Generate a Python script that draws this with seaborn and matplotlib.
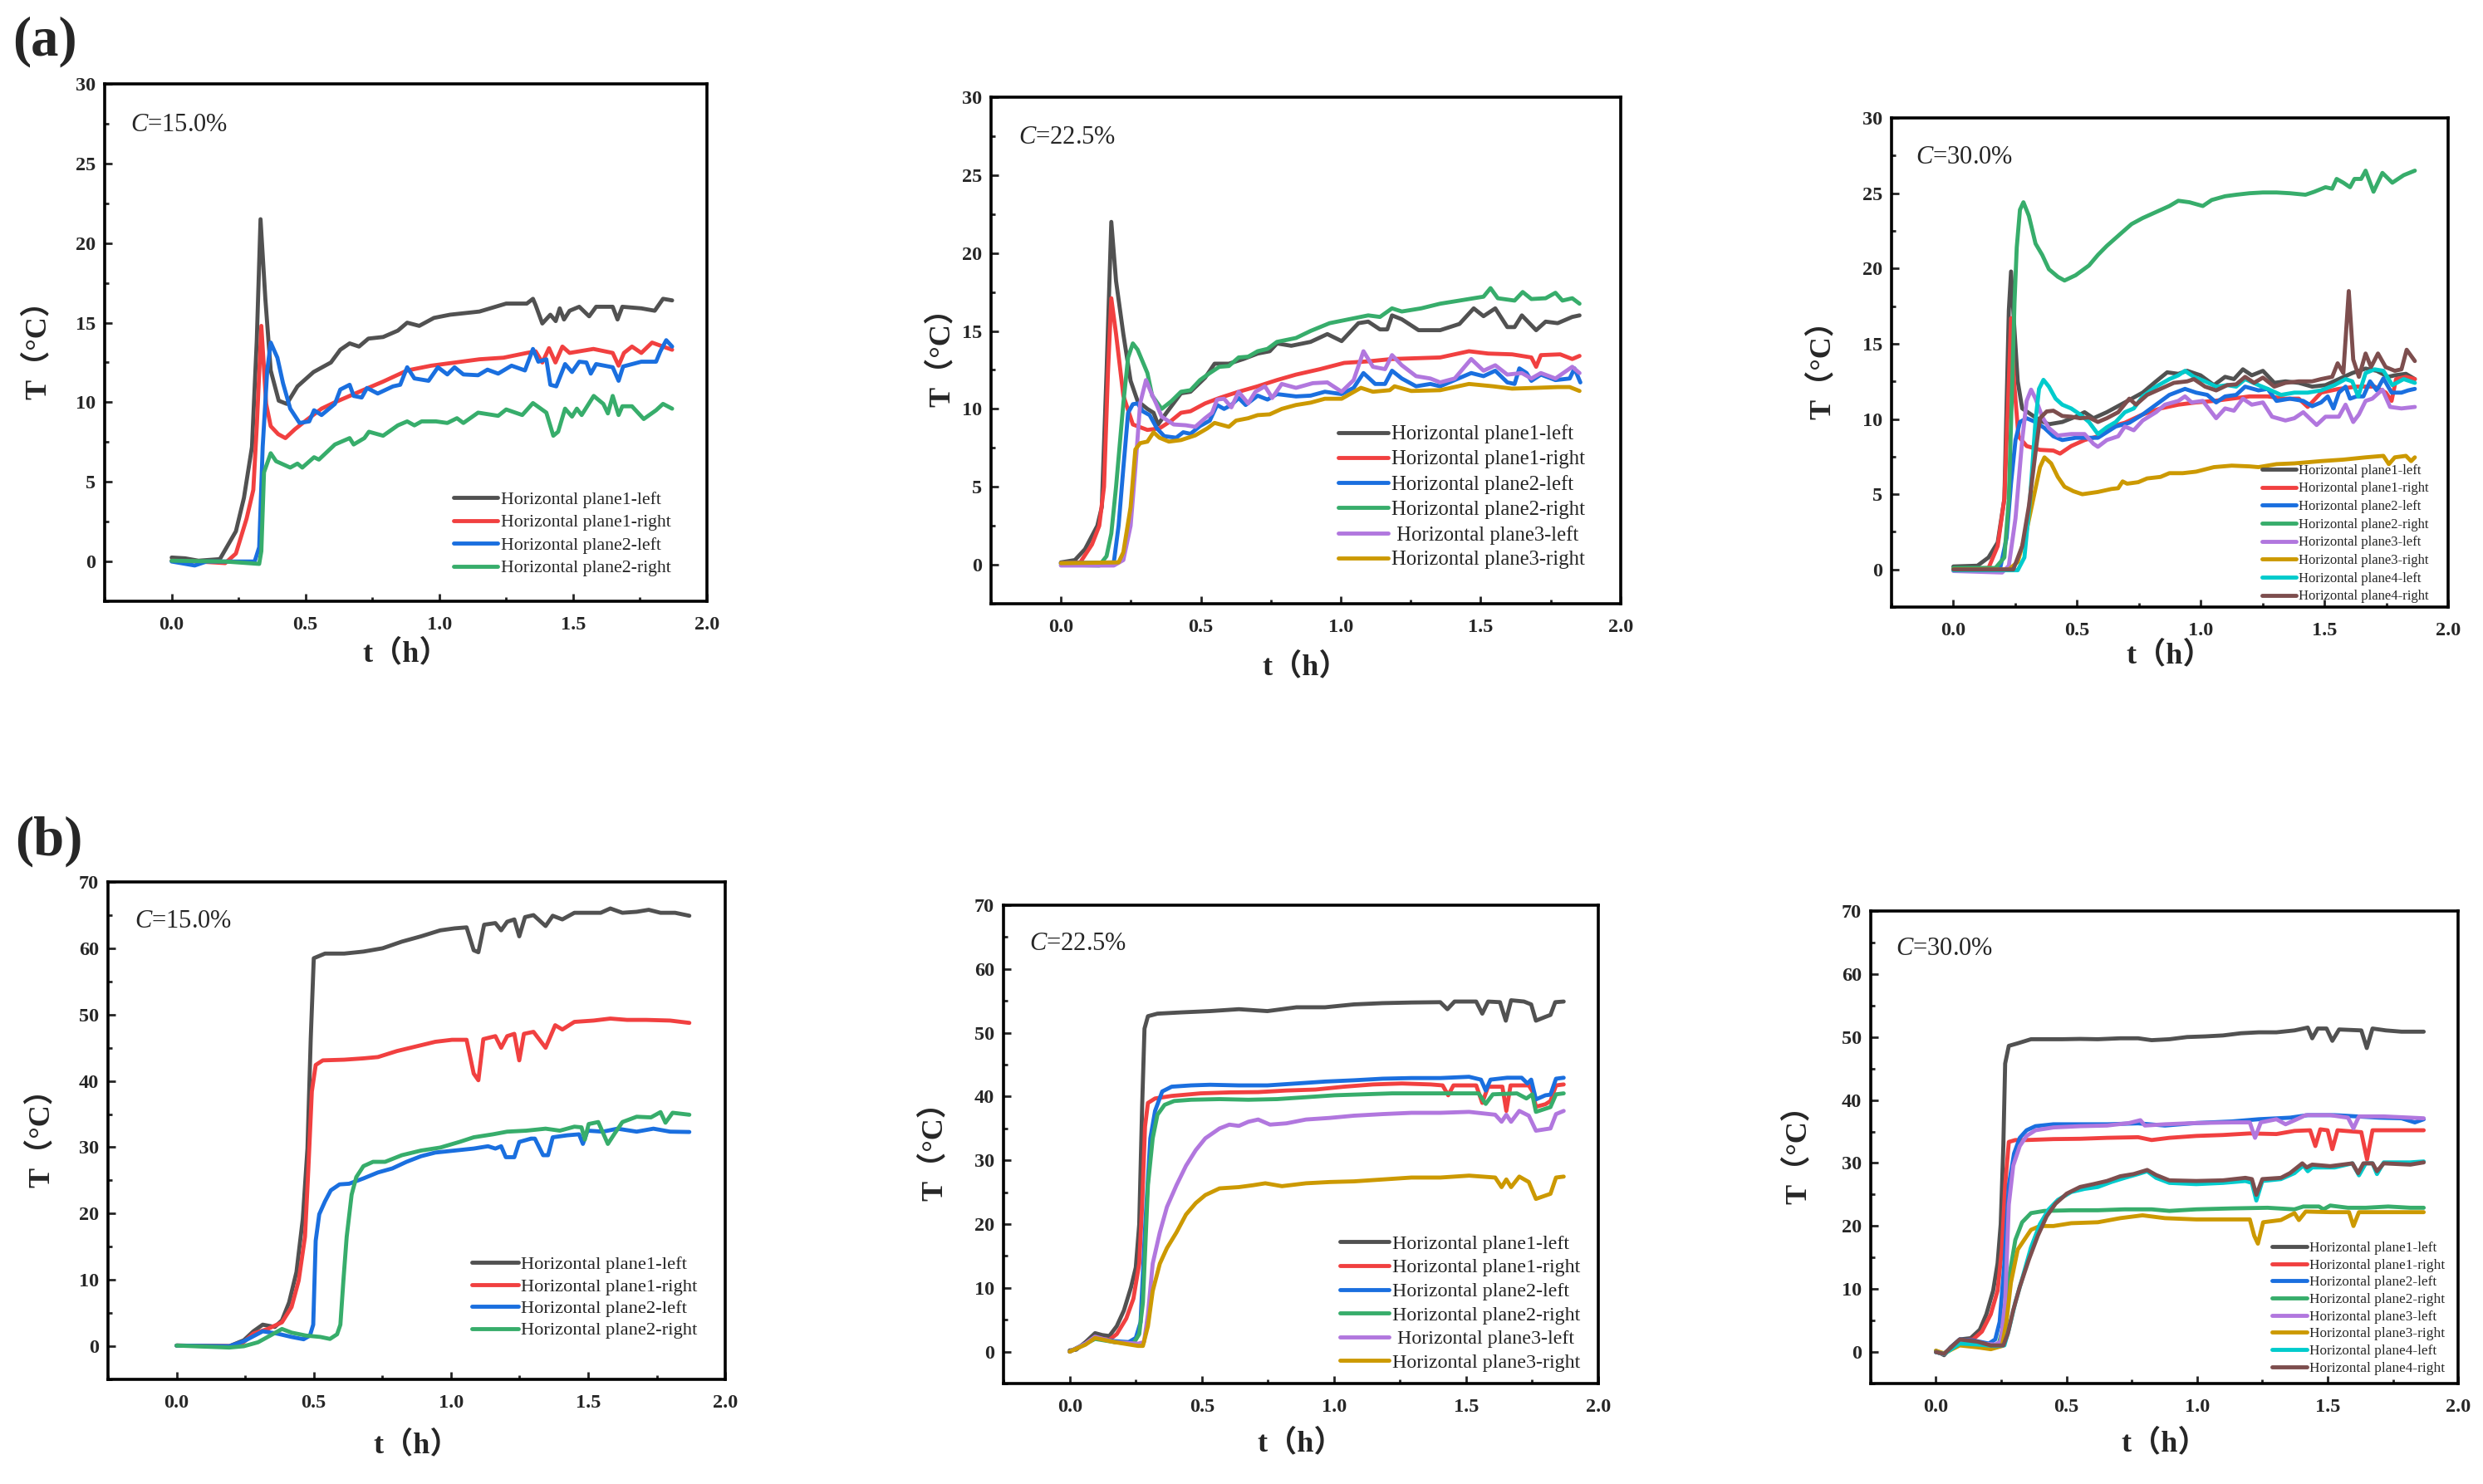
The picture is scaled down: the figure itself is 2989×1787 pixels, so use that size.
import matplotlib
matplotlib.use("Agg")
import matplotlib.pyplot as plt
from matplotlib.ticker import MultipleLocator
import seaborn as sns

# ---------------- data (t in h, T in degC) ----------------
labels4 = ["Horizontal plane1-left", "Horizontal plane1-right",
           "Horizontal plane2-left", "Horizontal plane2-right"]
labels6 = labels4 + [" Horizontal plane3-left", "Horizontal plane3-right"]
labels8 = labels4 + ["Horizontal plane3-left", "Horizontal plane3-right",
                     "Horizontal plane4-left", "Horizontal plane4-right"]
colors = ["#515151", "#F14040", "#1A6FDF", "#37AD6B",
          "#B177DE", "#CC9900", "#00CBCC", "#7D4E4E"]

# (a) C = 15.0 %
a15_p1l = [(0, 0.25), (0.05, 0.2), (0.1, 0.05), (0.18, 0.15), (0.24, 1.9), (0.27, 4), (0.3, 7.2),
           (0.318, 13.9), (0.332, 21.5), (0.35, 16.5), (0.37, 12), (0.4, 10.1), (0.43, 9.9), (0.47, 11),
           (0.53, 11.9), (0.595, 12.5), (0.63, 13.3), (0.665, 13.7), (0.7, 13.5), (0.735, 14), (0.79, 14.1),
           (0.845, 14.5), (0.88, 15), (0.925, 14.8), (0.98, 15.3), (1.04, 15.5), (1.15, 15.7), (1.25, 16.2),
           (1.327, 16.2), (1.35, 16.5), (1.36, 16.1), (1.385, 14.95), (1.415, 15.5), (1.435, 15.1),
           (1.45, 15.9), (1.466, 15.2), (1.487, 15.75), (1.523, 16), (1.56, 15.4), (1.586, 16), (1.648, 16),
           (1.666, 15.2), (1.684, 16), (1.755, 15.9), (1.805, 15.75), (1.836, 16.5), (1.87, 16.4)]
a15_p1r = [(0, 0.05), (0.1, 0.0), (0.2, -0.1), (0.24, 0.5), (0.28, 2.7), (0.305, 4.5), (0.318, 8.5),
           (0.335, 14.8), (0.353, 9.9), (0.37, 8.5), (0.398, 8), (0.425, 7.75), (0.46, 8.3), (0.505, 8.9),
           (0.56, 9.6), (0.61, 10), (0.665, 10.4), (0.72, 10.8), (0.79, 11.3), (0.88, 12), (0.97, 12.3),
           (1.06, 12.5), (1.15, 12.7), (1.24, 12.8), (1.327, 13.1), (1.36, 13.2), (1.385, 12.5), (1.41, 13.4),
           (1.434, 12.5), (1.46, 13.5), (1.487, 13.1), (1.576, 13.35), (1.648, 13.1), (1.67, 12.3),
           (1.69, 13.1), (1.72, 13.5), (1.755, 13.1), (1.795, 13.75), (1.836, 13.5), (1.87, 13.3)]
a15_p2l = [(0, 0), (0.086, -0.25), (0.13, 0), (0.31, 0), (0.327, 0.9), (0.34, 7.2), (0.357, 12),
           (0.37, 13.75), (0.395, 12.8), (0.416, 11.2), (0.443, 9.6), (0.478, 8.7), (0.514, 8.8), (0.532, 9.5),
           (0.56, 9.2), (0.61, 9.9), (0.63, 10.8), (0.665, 11.1), (0.68, 10.4), (0.71, 10.3), (0.73, 10.9),
           (0.77, 10.55), (0.827, 11), (0.854, 11.1), (0.88, 12.2), (0.907, 11.5), (0.96, 11.35), (0.995, 12.2),
           (1.03, 11.75), (1.057, 12.2), (1.09, 11.75), (1.145, 11.7), (1.18, 12.05), (1.22, 11.8), (1.27, 12.3),
           (1.32, 12), (1.35, 13.35), (1.37, 12.55), (1.4, 12.7), (1.415, 11.1), (1.437, 11), (1.47, 12.4),
           (1.496, 11.9), (1.523, 12.55), (1.55, 12.5), (1.566, 11.8), (1.586, 12.4), (1.648, 12.2),
           (1.67, 11.35), (1.687, 12.25), (1.755, 12.55), (1.81, 12.55), (1.826, 13.2), (1.848, 13.9),
           (1.87, 13.5)]
a15_p2r = [(0, 0.05), (0.2, 0), (0.327, -0.15), (0.335, 0.65), (0.345, 5.6), (0.37, 6.8), (0.39, 6.3),
           (0.443, 5.9), (0.47, 6.15), (0.488, 5.9), (0.532, 6.55), (0.55, 6.4), (0.61, 7.35), (0.665, 7.75),
           (0.68, 7.35), (0.72, 7.75), (0.737, 8.15), (0.79, 7.9), (0.845, 8.55), (0.88, 8.8), (0.907, 8.55),
           (0.934, 8.8), (0.988, 8.8), (1.03, 8.7), (1.066, 9), (1.09, 8.7), (1.145, 9.35), (1.22, 9.15),
           (1.25, 9.55), (1.31, 9.2), (1.35, 9.95), (1.4, 9.35), (1.426, 7.9), (1.444, 8.15), (1.47, 9.6),
           (1.496, 9.1), (1.514, 9.6), (1.532, 9.2), (1.577, 10.4), (1.613, 9.9), (1.63, 9.3), (1.648, 10.4),
           (1.67, 9.2), (1.684, 9.75), (1.72, 9.75), (1.764, 8.95), (1.81, 9.5), (1.836, 9.9), (1.87, 9.6)]

# (a) C = 22.5 %
a22_p1l = [(0, 0.15), (0.05, 0.3), (0.086, 1.0), (0.13, 2.5), (0.146, 3.7), (0.163, 12.3), (0.18, 22),
           (0.197, 18.2), (0.223, 14.8), (0.249, 11.8), (0.274, 10.5), (0.309, 10), (0.331, 9.75), (0.347, 9),
           (0.377, 9.75), (0.429, 11), (0.463, 11.1), (0.515, 12), (0.549, 12.9), (0.6, 12.9), (0.652, 13.2),
           (0.703, 13.55), (0.746, 13.7), (0.772, 14.2), (0.823, 14.05), (0.892, 14.3), (0.952, 14.8),
           (1.003, 14.35), (1.063, 15.5), (1.098, 15.6), (1.14, 15.1), (1.166, 15.1), (1.183, 16),
           (1.218, 15.75), (1.278, 15.05), (1.355, 15.05), (1.424, 15.45), (1.475, 16.45), (1.51, 15.95),
           (1.552, 16.45), (1.595, 15.25), (1.621, 15.25), (1.647, 16), (1.698, 15.05), (1.732, 15.6),
           (1.775, 15.5), (1.827, 15.9), (1.853, 16)]
a22_p1r = [(0, 0.1), (0.069, 0.15), (0.111, 1.3), (0.137, 2.5), (0.154, 5), (0.168, 12.3), (0.18, 17.1),
           (0.197, 14.8), (0.223, 10.85), (0.257, 9), (0.309, 8.65), (0.352, 8.75), (0.395, 9.25),
           (0.429, 9.75), (0.463, 9.85), (0.515, 10.35), (0.566, 10.7), (0.635, 11.1), (0.703, 11.45),
           (0.772, 11.85), (0.84, 12.2), (0.926, 12.55), (1.012, 12.95), (1.098, 13.05), (1.183, 13.2),
           (1.269, 13.25), (1.355, 13.3), (1.458, 13.7), (1.527, 13.55), (1.612, 13.5), (1.681, 13.3),
           (1.698, 12.7), (1.715, 13.45), (1.784, 13.5), (1.827, 13.2), (1.853, 13.4)]
a22_p2l = [(0, 0.1), (0.189, 0.15), (0.206, 2.5), (0.223, 6.2), (0.24, 9.75), (0.257, 10.3), (0.274, 10.35),
           (0.292, 9.85), (0.317, 9.6), (0.343, 8.75), (0.369, 8.25), (0.412, 8.15), (0.437, 8.5), (0.463, 8.4),
           (0.497, 8.9), (0.532, 9.25), (0.558, 10.25), (0.583, 10), (0.609, 10.25), (0.635, 10.7),
           (0.66, 10.25), (0.703, 10.85), (0.738, 10.6), (0.772, 10.95), (0.84, 10.8), (0.892, 10.85),
           (0.943, 11.1), (1.003, 10.95), (1.046, 11.35), (1.081, 12.3), (1.123, 11.6), (1.158, 11.6),
           (1.183, 12.45), (1.218, 11.95), (1.269, 11.45), (1.32, 11.6), (1.355, 11.45), (1.407, 11.85),
           (1.466, 12.3), (1.51, 12.1), (1.552, 12.45), (1.595, 11.7), (1.621, 11.6), (1.638, 12.6),
           (1.664, 12.3), (1.681, 11.8), (1.715, 12.2), (1.767, 11.85), (1.818, 11.95), (1.835, 12.6),
           (1.856, 11.7)]
a22_p2r = [(0, 0.0), (0.137, -0.05), (0.163, 0.55), (0.18, 2), (0.197, 5), (0.223, 10.35), (0.24, 13.3),
           (0.257, 14.2), (0.274, 13.8), (0.309, 12.3), (0.326, 10.85), (0.36, 10), (0.395, 10.5),
           (0.429, 11.1), (0.463, 11.2), (0.497, 11.85), (0.532, 12.3), (0.566, 12.7), (0.6, 12.75),
           (0.635, 13.3), (0.669, 13.35), (0.703, 13.7), (0.738, 13.85), (0.772, 14.3), (0.84, 14.55),
           (0.892, 15), (0.96, 15.5), (1.029, 15.75), (1.098, 16), (1.14, 15.9), (1.183, 16.45),
           (1.218, 16.25), (1.287, 16.45), (1.355, 16.75), (1.424, 16.95), (1.475, 17.1), (1.51, 17.2),
           (1.535, 17.75), (1.561, 17.1), (1.621, 16.95), (1.65, 17.5), (1.681, 17.05), (1.732, 17.1),
           (1.767, 17.45), (1.792, 16.95), (1.827, 17.1), (1.853, 16.75)]
a22_p3l = [(0, -0.05), (0.189, -0.05), (0.223, 0.3), (0.249, 2.5), (0.266, 6.2), (0.283, 10.35),
           (0.304, 11.85), (0.321, 11.1), (0.34, 10.35), (0.36, 9.5), (0.403, 9), (0.446, 8.95), (0.48, 8.85),
           (0.515, 9.4), (0.54, 9.75), (0.558, 10.6), (0.583, 10.65), (0.609, 10.1), (0.635, 11.1),
           (0.669, 10.35), (0.695, 11.1), (0.729, 11.45), (0.755, 10.7), (0.789, 11.6), (0.84, 11.35),
           (0.9, 11.65), (0.952, 11.7), (1.003, 11.1), (1.046, 11.85), (1.081, 13.7), (1.115, 12.7),
           (1.158, 12.55), (1.183, 13.45), (1.218, 12.8), (1.269, 12.1), (1.32, 11.95), (1.355, 11.7),
           (1.407, 11.95), (1.466, 13.2), (1.51, 12.45), (1.552, 12.8), (1.595, 12.2), (1.647, 12.3),
           (1.681, 11.95), (1.715, 12.3), (1.767, 11.95), (1.827, 12.7), (1.853, 12.3)]
a22_p3r = [(0, 0.1), (0.206, 0.15), (0.223, 0.8), (0.249, 3.7), (0.266, 7.4), (0.283, 7.8), (0.309, 7.9),
           (0.331, 8.5), (0.352, 8.15), (0.386, 7.9), (0.429, 8), (0.48, 8.3), (0.523, 8.75), (0.549, 9.1),
           (0.6, 8.85), (0.626, 9.25), (0.669, 9.4), (0.703, 9.6), (0.746, 9.65), (0.789, 10), (0.84, 10.25),
           (0.892, 10.4), (0.943, 10.65), (1.003, 10.65), (1.072, 11.35), (1.115, 11.1), (1.175, 11.2),
           (1.192, 11.45), (1.252, 11.15), (1.355, 11.2), (1.458, 11.6), (1.544, 11.45), (1.612, 11.3),
           (1.698, 11.35), (1.775, 11.4), (1.818, 11.4), (1.853, 11.15)]

# (a) C = 30.0 %
a30_p1l = [(0, 0.2), (0.097, 0.25), (0.142, 0.8), (0.179, 1.8), (0.206, 4.7), (0.224, 17.2), (0.233, 19.8),
           (0.245, 16.4), (0.26, 12.5), (0.278, 10.7), (0.314, 10.3), (0.35, 9.9), (0.386, 9.65), (0.44, 9.8),
           (0.494, 10.15), (0.53, 10.45), (0.566, 10.05), (0.62, 10.45), (0.693, 11.1), (0.765, 11.75),
           (0.819, 12.5), (0.864, 13.1), (0.909, 13), (0.945, 13.2), (0.999, 12.9), (1.053, 12.25),
           (1.098, 12.8), (1.134, 12.65), (1.17, 13.3), (1.206, 12.9), (1.251, 13.2), (1.297, 12.4),
           (1.342, 12.5), (1.396, 12.4), (1.45, 12.15), (1.504, 12.25), (1.558, 12.65), (1.612, 13.05),
           (1.666, 13.35), (1.711, 13.2), (1.757, 12.8), (1.784, 12.9), (1.829, 13), (1.865, 12.65)]
a30_p1r = [(0, 0), (0.142, 0.1), (0.179, 1.55), (0.206, 4.7), (0.224, 12.5), (0.233, 16.7), (0.245, 12.5),
           (0.263, 8.85), (0.296, 8.2), (0.35, 7.95), (0.404, 7.9), (0.431, 7.7), (0.476, 8.2), (0.53, 8.6),
           (0.584, 8.85), (0.639, 9.5), (0.693, 9.75), (0.765, 10.3), (0.837, 10.7), (0.909, 10.95),
           (0.981, 11.1), (1.053, 11.2), (1.125, 11.35), (1.197, 11.5), (1.27, 11.5), (1.342, 11.35),
           (1.396, 11.35), (1.432, 10.8), (1.486, 11.75), (1.558, 12), (1.63, 12.15), (1.702, 12.15),
           (1.748, 11.75), (1.771, 11.2), (1.789, 12.65), (1.829, 12.8), (1.865, 12.65)]
a30_p2l = [(0, 0), (0.188, 0), (0.215, 2.1), (0.233, 5.75), (0.251, 8.6), (0.269, 9.8), (0.296, 10.05),
           (0.332, 9.8), (0.368, 9.4), (0.404, 8.85), (0.44, 8.6), (0.494, 8.75), (0.53, 8.75), (0.584, 8.75),
           (0.656, 9.5), (0.711, 9.75), (0.765, 10.3), (0.819, 10.95), (0.873, 11.6), (0.936, 12),
           (0.981, 11.75), (1.026, 11.6), (1.062, 11.1), (1.098, 11.5), (1.143, 11.6), (1.179, 12.15),
           (1.233, 11.9), (1.27, 12), (1.306, 11.2), (1.36, 11.35), (1.414, 11.2), (1.45, 10.85), (1.486, 11.1),
           (1.513, 11.5), (1.536, 10.7), (1.558, 11.75), (1.585, 12.15), (1.603, 11.35), (1.63, 11.5),
           (1.657, 11.5), (1.684, 12.5), (1.711, 11.9), (1.738, 12.7), (1.771, 11.75), (1.811, 11.75),
           (1.838, 11.9), (1.865, 12)]
a30_p2r = [(0, 0.1), (0.17, 0.1), (0.206, 0.8), (0.224, 4.7), (0.238, 12.5), (0.247, 17.75), (0.256, 21.4),
           (0.269, 23.9), (0.283, 24.4), (0.305, 23.5), (0.332, 21.65), (0.359, 20.9), (0.386, 19.95),
           (0.422, 19.45), (0.449, 19.2), (0.494, 19.55), (0.548, 20.2), (0.584, 20.9), (0.62, 21.5),
           (0.675, 22.3), (0.72, 22.95), (0.765, 23.35), (0.819, 23.75), (0.873, 24.15), (0.909, 24.5),
           (0.954, 24.4), (1.008, 24.15), (1.044, 24.55), (1.098, 24.8), (1.143, 24.9), (1.197, 25),
           (1.251, 25.05), (1.306, 25.05), (1.36, 25), (1.423, 24.9), (1.459, 25.1), (1.504, 25.4),
           (1.531, 25.3), (1.549, 25.95), (1.576, 25.7), (1.603, 25.4), (1.621, 25.95), (1.648, 25.95),
           (1.666, 26.5), (1.698, 25.1), (1.734, 26.35), (1.774, 25.7), (1.82, 26.2), (1.865, 26.5)]
a30_p3l = [(0, -0.1), (0.197, -0.2), (0.224, 0.25), (0.251, 3.4), (0.278, 8.6), (0.296, 11.2),
           (0.314, 11.95), (0.332, 11.35), (0.359, 10.15), (0.386, 9.4), (0.422, 8.9), (0.476, 9), (0.53, 9),
           (0.566, 8.35), (0.584, 8.15), (0.62, 8.6), (0.666, 8.85), (0.693, 9.5), (0.729, 9.25), (0.765, 9.9),
           (0.819, 10.45), (0.855, 10.95), (0.909, 11.2), (0.936, 11.5), (0.963, 11.1), (1.008, 11.2),
           (1.062, 10.05), (1.098, 10.7), (1.134, 10.55), (1.17, 11.35), (1.206, 10.95), (1.251, 11.1),
           (1.288, 10.15), (1.342, 9.9), (1.378, 10.05), (1.414, 10.45), (1.468, 9.6), (1.504, 10.15),
           (1.558, 10.15), (1.585, 10.95), (1.616, 9.8), (1.639, 10.3), (1.666, 11.2), (1.693, 11.35),
           (1.734, 11.95), (1.765, 10.8), (1.811, 10.7), (1.865, 10.8)]
a30_p3r = [(0, 0), (0.224, 0), (0.26, 0.5), (0.296, 2.6), (0.323, 4.7), (0.35, 6.8), (0.368, 7.45),
           (0.395, 7.05), (0.422, 6.15), (0.449, 5.5), (0.485, 5.2), (0.521, 5), (0.584, 5.15), (0.639, 5.35),
           (0.666, 5.4), (0.684, 5.85), (0.702, 5.7), (0.747, 5.8), (0.783, 6.05), (0.837, 6.15),
           (0.873, 6.4), (0.927, 6.4), (0.981, 6.5), (1.053, 6.8), (1.125, 6.9), (1.197, 6.85), (1.233, 6.8),
           (1.306, 7), (1.378, 7.05), (1.486, 7.2), (1.576, 7.3), (1.666, 7.45), (1.738, 7.55), (1.76, 7),
           (1.784, 7.45), (1.829, 7.55), (1.85, 7.2), (1.865, 7.45)]
a30_p4l = [(0, -0.05), (0.26, -0.05), (0.287, 0.8), (0.31, 4.7), (0.332, 9.9), (0.346, 12), (0.364, 12.6),
           (0.386, 12.15), (0.413, 11.35), (0.44, 10.95), (0.476, 10.7), (0.512, 10.3), (0.548, 9.8),
           (0.584, 9), (0.62, 9.45), (0.656, 9.8), (0.693, 10.45), (0.729, 10.7), (0.765, 11.5), (0.819, 12.15),
           (0.873, 12.65), (0.909, 12.9), (0.936, 13.2), (0.972, 12.8), (1.017, 12.5), (1.062, 12.15),
           (1.107, 12.25), (1.143, 12.15), (1.179, 12.65), (1.233, 12.25), (1.27, 12), (1.324, 11.6),
           (1.378, 11.75), (1.432, 11.75), (1.486, 11.9), (1.54, 12.25), (1.585, 12.65), (1.612, 12.5),
           (1.636, 11.5), (1.666, 13.05), (1.702, 13.3), (1.738, 13.2), (1.774, 12.25), (1.82, 12.65),
           (1.865, 12.4)]
a30_p4r = [(0, 0), (0.242, 0), (0.278, 1.55), (0.305, 4.2), (0.332, 7.8), (0.35, 10.05), (0.377, 10.5),
           (0.404, 10.55), (0.44, 10.2), (0.476, 10.15), (0.512, 10.05), (0.548, 10.1), (0.584, 9.8),
           (0.62, 10.05), (0.666, 10.45), (0.711, 11.35), (0.738, 10.95), (0.783, 11.6), (0.837, 12),
           (0.891, 12.4), (0.945, 12.5), (0.972, 12.65), (1.017, 12.15), (1.062, 11.9), (1.107, 12.25),
           (1.143, 12.3), (1.179, 12.8), (1.215, 12.4), (1.251, 12.75), (1.297, 12.15), (1.342, 12.4),
           (1.396, 12.5), (1.45, 12.5), (1.486, 12.65), (1.531, 12.8), (1.553, 13.7), (1.576, 13.05),
           (1.598, 18.5), (1.616, 13.95), (1.639, 12.8), (1.666, 14.35), (1.688, 13.45), (1.716, 14.35),
           (1.747, 13.45), (1.784, 13.2), (1.811, 13.3), (1.832, 14.6), (1.865, 13.85)]

# (b) C = 15.0 %
b15_p1l = [(0, 0.1), (0.192, 0), (0.245, 0.9), (0.28, 2.25), (0.314, 3.25), (0.358, 2.9), (0.384, 3.9),
           (0.41, 6.6), (0.437, 11.2), (0.46, 19.2), (0.477, 29.8), (0.489, 46.4), (0.5, 58.5), (0.541, 59.2),
           (0.611, 59.2), (0.681, 59.5), (0.751, 60), (0.821, 61), (0.891, 61.8), (0.961, 62.7), (1.013, 63),
           (1.057, 63.15), (1.083, 59.7), (1.1, 59.4), (1.121, 63.55), (1.162, 63.8), (1.183, 62.7),
           (1.205, 64), (1.231, 64.35), (1.249, 61.8), (1.27, 64.7), (1.301, 65), (1.345, 63.35),
           (1.371, 64.9), (1.406, 64.35), (1.45, 65.35), (1.502, 65.35), (1.546, 65.35), (1.581, 66),
           (1.625, 65.35), (1.677, 65.5), (1.721, 65.8), (1.764, 65.35), (1.817, 65.35), (1.869, 64.9)]
b15_p1r = [(0, 0.1), (0.227, 0), (0.28, 1.9), (0.332, 2.6), (0.384, 3.6), (0.419, 5.9), (0.445, 9.9),
           (0.468, 16.5), (0.48, 26.5), (0.493, 38.4), (0.507, 42.4), (0.533, 43.1), (0.611, 43.2),
           (0.681, 43.4), (0.734, 43.6), (0.803, 44.5), (0.873, 45.2), (0.943, 45.9), (1.004, 46.2),
           (1.057, 46.2), (1.083, 41.1), (1.1, 40.1), (1.118, 46.3), (1.162, 46.75), (1.183, 45),
           (1.205, 46.75), (1.231, 47.1), (1.249, 43.1), (1.266, 47.1), (1.301, 47.4), (1.345, 45),
           (1.38, 48.4), (1.406, 47.75), (1.45, 48.9), (1.52, 49.1), (1.581, 49.4), (1.642, 49.2),
           (1.712, 49.2), (1.799, 49.1), (1.869, 48.75)]
b15_p2l = [(0, 0.1), (0.192, 0), (0.245, 0.75), (0.314, 2.25), (0.367, 1.9), (0.419, 1.4), (0.463, 1.05),
           (0.486, 1.6), (0.498, 3.25), (0.507, 15.9), (0.52, 19.9), (0.541, 21.85), (0.562, 23.5),
           (0.594, 24.4), (0.629, 24.5), (0.681, 25.3), (0.734, 26.2), (0.786, 26.8), (0.838, 27.8),
           (0.891, 28.65), (0.943, 29.2), (1.013, 29.5), (1.083, 29.8), (1.135, 30.15), (1.162, 29.8),
           (1.183, 30.15), (1.2, 28.5), (1.231, 28.5), (1.249, 30.8), (1.292, 31.3), (1.306, 31.3),
           (1.336, 28.8), (1.354, 28.8), (1.371, 31.5), (1.424, 31.8), (1.467, 31.95), (1.481, 30.5),
           (1.498, 32.5), (1.554, 32.35), (1.607, 32.8), (1.677, 32.35), (1.738, 32.8), (1.799, 32.35),
           (1.869, 32.3)]
b15_p2r = [(0, 0.1), (0.192, -0.2), (0.245, 0), (0.297, 0.6), (0.341, 1.6), (0.384, 2.6), (0.419, 2.05),
           (0.472, 1.6), (0.524, 1.4), (0.559, 1.1), (0.585, 1.8), (0.597, 3.25), (0.608, 9.9), (0.62, 16.5),
           (0.638, 22.85), (0.655, 25.5), (0.681, 27.15), (0.716, 27.8), (0.76, 27.8), (0.821, 28.8),
           (0.891, 29.5), (0.961, 29.95), (1.031, 30.8), (1.083, 31.5), (1.153, 31.95), (1.205, 32.35),
           (1.275, 32.5), (1.345, 32.8), (1.397, 32.5), (1.45, 33.1), (1.476, 33), (1.488, 31.15),
           (1.502, 33.5), (1.537, 33.8), (1.572, 30.5), (1.598, 32.15), (1.625, 33.8), (1.677, 34.6),
           (1.729, 34.5), (1.764, 35.3), (1.782, 33.7), (1.808, 35.2), (1.869, 34.9)]

# (b) C = 22.5 %
b22_p1l = [(0, 0.2), (0.024, 0.3), (0.06, 1.5), (0.096, 2.9), (0.123, 2.6), (0.15, 2.45), (0.178, 4),
           (0.205, 6.45), (0.232, 10.1), (0.25, 13.2), (0.263, 19.95), (0.274, 38.4), (0.283, 50.65),
           (0.296, 52.6), (0.332, 53), (0.422, 53.2), (0.531, 53.4), (0.64, 53.7), (0.748, 53.4), (0.858, 54),
           (0.966, 54), (1.075, 54.45), (1.184, 54.65), (1.293, 54.75), (1.402, 54.8), (1.429, 53.7),
           (1.456, 54.9), (1.538, 54.9), (1.561, 53), (1.583, 54.9), (1.628, 54.8), (1.65, 51.9), (1.67, 55.1),
           (1.719, 54.9), (1.746, 54.45), (1.764, 51.9), (1.8, 52.5), (1.819, 52.8), (1.837, 54.8),
           (1.869, 54.9)]
b22_p1r = [(0, 0), (0.06, 1.25), (0.096, 2.15), (0.15, 1.85), (0.178, 2.75), (0.214, 5.2), (0.241, 8.3),
           (0.263, 13.8), (0.274, 23), (0.285, 35.3), (0.296, 39), (0.323, 39.7), (0.386, 40.1), (0.495, 40.5),
           (0.604, 40.65), (0.713, 40.7), (0.82, 40.95), (0.93, 41.1), (1.039, 41.55), (1.148, 41.9),
           (1.257, 42.05), (1.366, 41.9), (1.411, 41.75), (1.432, 40.2), (1.452, 41.75), (1.538, 41.75),
           (1.561, 39), (1.583, 41.55), (1.637, 41.55), (1.652, 37.75), (1.668, 41.75), (1.737, 41.75),
           (1.751, 40.8), (1.764, 38.4), (1.8, 38.8), (1.819, 39.3), (1.84, 41.75), (1.869, 41.9)]
b22_p2l = [(0, 0), (0.06, 1.25), (0.096, 2.15), (0.169, 1.65), (0.223, 1.5), (0.25, 2.15), (0.268, 4.6),
           (0.286, 19.95), (0.305, 33.45), (0.323, 37.75), (0.35, 40.8), (0.386, 41.55), (0.459, 41.75),
           (0.531, 41.85), (0.64, 41.75), (0.748, 41.75), (0.858, 42.05), (0.966, 42.35), (1.075, 42.55),
           (1.184, 42.8), (1.293, 42.9), (1.402, 42.9), (1.511, 43.1), (1.556, 42.65), (1.574, 40.95),
           (1.592, 42.65), (1.655, 42.95), (1.71, 42.95), (1.732, 42.05), (1.746, 42.65), (1.764, 39.55),
           (1.8, 40.2), (1.819, 40.3), (1.84, 42.8), (1.869, 42.95)]
b22_p2r = [(0, 0), (0.06, 1.25), (0.096, 2), (0.169, 1.5), (0.241, 1.25), (0.263, 2.75), (0.277, 7.7),
           (0.296, 26.1), (0.314, 33.45), (0.332, 37.15), (0.359, 38.7), (0.395, 39.3), (0.459, 39.5),
           (0.567, 39.6), (0.676, 39.5), (0.785, 39.6), (0.894, 39.9), (1.002, 40.2), (1.111, 40.35),
           (1.22, 40.5), (1.329, 40.5), (1.438, 40.5), (1.547, 40.5), (1.574, 38.85), (1.601, 40.35),
           (1.692, 40.5), (1.728, 39.7), (1.75, 40.35), (1.764, 37.6), (1.819, 38.35), (1.84, 40.35),
           (1.869, 40.5)]
b22_p3l = [(0, 0), (0.06, 1.25), (0.096, 2.35), (0.169, 1.5), (0.259, 1.25), (0.281, 1.5), (0.296, 5.85),
           (0.314, 13.8), (0.341, 18.7), (0.368, 22.7), (0.404, 26.1), (0.44, 29.15), (0.477, 31.6),
           (0.513, 33.45), (0.567, 35), (0.604, 35.6), (0.64, 35.4), (0.676, 36.05), (0.713, 36.4),
           (0.758, 35.6), (0.82, 35.8), (0.894, 36.4), (0.984, 36.65), (1.075, 37), (1.184, 37.25),
           (1.293, 37.45), (1.402, 37.45), (1.511, 37.6), (1.61, 37.15), (1.634, 36.05), (1.652, 37.15),
           (1.67, 36.05), (1.701, 37.75), (1.737, 37), (1.764, 34.65), (1.819, 35), (1.84, 37.25),
           (1.869, 37.75)]
b22_p3r = [(0, 0), (0.06, 1.1), (0.096, 2.15), (0.169, 1.5), (0.259, 0.9), (0.277, 0.9), (0.296, 4),
           (0.314, 9.5), (0.341, 13.8), (0.368, 16.25), (0.404, 18.7), (0.44, 21.5), (0.477, 23.3),
           (0.513, 24.55), (0.567, 25.6), (0.64, 25.8), (0.694, 26.1), (0.74, 26.4), (0.803, 25.95),
           (0.894, 26.4), (0.984, 26.6), (1.075, 26.7), (1.184, 27), (1.293, 27.3), (1.402, 27.3),
           (1.511, 27.6), (1.61, 27.3), (1.634, 25.8), (1.652, 27), (1.67, 25.8), (1.701, 27.45),
           (1.737, 26.6), (1.764, 23.95), (1.819, 24.75), (1.84, 27.3), (1.869, 27.45)]

# (b) C = 30.0 %
b30_p1l = [(0, 0.2), (0.031, -0.5), (0.056, 0.75), (0.091, 2), (0.133, 2.2), (0.168, 3.55), (0.193, 6),
           (0.219, 9.75), (0.236, 14.1), (0.248, 20.3), (0.258, 32.7), (0.265, 45.8), (0.279, 48.6),
           (0.313, 49), (0.364, 49.65), (0.415, 49.65), (0.483, 49.65), (0.552, 49.7), (0.62, 49.65),
           (0.706, 49.8), (0.774, 49.8), (0.826, 49.5), (0.894, 49.65), (0.962, 50), (1.031, 50.1),
           (1.099, 50.25), (1.168, 50.6), (1.236, 50.75), (1.304, 50.75), (1.373, 51.05), (1.424, 51.5),
           (1.441, 49.8), (1.462, 51.35), (1.496, 51.35), (1.518, 49.4), (1.544, 51.2), (1.629, 51.05),
           (1.65, 48.25), (1.672, 51.35), (1.723, 51.05), (1.783, 50.85), (1.868, 50.85)]
b30_p1r = [(0, 0), (0.031, -0.3), (0.091, 1.85), (0.142, 2), (0.176, 3.25), (0.21, 6), (0.236, 9.75),
           (0.253, 16.6), (0.265, 26.5), (0.279, 33.35), (0.304, 33.65), (0.347, 33.65), (0.45, 33.8),
           (0.552, 33.85), (0.655, 34), (0.774, 34.1), (0.826, 33.65), (0.894, 34), (0.997, 34.3),
           (1.099, 34.45), (1.202, 34.7), (1.304, 34.6), (1.373, 35.1), (1.433, 35.2), (1.453, 32.7),
           (1.472, 35.35), (1.5, 35.2), (1.518, 32.2), (1.538, 35.2), (1.629, 34.9), (1.651, 30.55),
           (1.672, 35.2), (1.783, 35.2), (1.868, 35.2)]
b30_p2l = [(0, 0), (0.031, -0.3), (0.091, 2), (0.142, 1.85), (0.202, 1.35), (0.227, 2), (0.244, 4.8),
           (0.262, 14.1), (0.279, 26.5), (0.299, 31.5), (0.321, 34), (0.347, 35.2), (0.381, 35.85),
           (0.45, 36.15), (0.552, 36.15), (0.655, 36.15), (0.774, 36.3), (0.877, 35.95), (0.997, 36.35),
           (1.133, 36.6), (1.236, 36.95), (1.356, 37.2), (1.424, 37.6), (1.527, 37.6), (1.612, 37.4),
           (1.697, 37.2), (1.783, 37.1), (1.834, 36.45), (1.868, 36.95)]
b30_p2r = [(0, 0), (0.031, -0.3), (0.091, 1.35), (0.159, 1.05), (0.21, 0.75), (0.241, 1.35), (0.262, 4.8),
           (0.279, 11.6), (0.304, 17.8), (0.33, 20.6), (0.364, 22.05), (0.415, 22.4), (0.518, 22.5),
           (0.62, 22.5), (0.723, 22.65), (0.826, 22.65), (0.894, 22.4), (0.997, 22.65), (1.133, 22.8),
           (1.27, 22.9), (1.373, 22.65), (1.407, 23.1), (1.467, 23.1), (1.484, 22.65), (1.51, 23.25),
           (1.578, 22.9), (1.646, 22.9), (1.732, 23.1), (1.817, 22.9), (1.868, 22.9)]
b30_p3l = [(0, 0), (0.031, -0.3), (0.091, 1.65), (0.159, 1.35), (0.227, 1.2), (0.248, 1.65), (0.265, 7.9),
           (0.279, 23.4), (0.296, 29.6), (0.321, 32.7), (0.347, 34.3), (0.381, 35.2), (0.45, 35.65),
           (0.552, 35.85), (0.655, 35.95), (0.74, 36.35), (0.783, 36.8), (0.8, 35.95), (0.877, 36.15),
           (0.997, 36.35), (1.133, 36.45), (1.202, 36.45), (1.222, 34), (1.244, 36.45), (1.304, 36.95),
           (1.339, 36.15), (1.39, 37.1), (1.416, 37.6), (1.51, 37.6), (1.578, 37.2), (1.599, 35.5),
           (1.62, 37.4), (1.715, 37.4), (1.817, 37.2), (1.868, 37.1)]
b30_p3r = [(0, 0.2), (0.031, -0.2), (0.091, 1.05), (0.159, 0.75), (0.21, 0.45), (0.253, 0.95), (0.27, 4.8),
           (0.287, 11), (0.313, 16.25), (0.338, 17.8), (0.364, 19.4), (0.398, 20), (0.45, 20), (0.518, 20.45),
           (0.62, 20.6), (0.706, 21.25), (0.791, 21.7), (0.877, 21.25), (0.997, 21.05), (1.099, 21.05),
           (1.202, 21.05), (1.219, 18.45), (1.233, 17.2), (1.253, 20.6), (1.321, 20.95), (1.373, 22.05),
           (1.39, 20.95), (1.416, 22.3), (1.51, 22.2), (1.582, 22.2), (1.599, 20), (1.62, 22.2), (1.732, 22.2),
           (1.868, 22.2)]
b30_p4l = [(0, 0), (0.031, -0.3), (0.091, 1.35), (0.159, 1.2), (0.227, 0.95), (0.262, 1.05), (0.279, 3.55),
           (0.304, 7.9), (0.33, 11.6), (0.364, 16.6), (0.398, 20.3), (0.432, 22.65), (0.467, 24.15),
           (0.518, 25.4), (0.569, 25.9), (0.62, 26.2), (0.672, 27), (0.723, 27.65), (0.774, 28.25),
           (0.809, 28.7), (0.843, 27.65), (0.894, 26.85), (0.997, 26.65), (1.099, 26.85), (1.185, 27.15),
           (1.21, 26.85), (1.227, 24.05), (1.25, 27.15), (1.321, 27.45), (1.373, 28.4), (1.407, 29.6),
           (1.424, 28.7), (1.441, 29.3), (1.527, 29.3), (1.595, 29.95), (1.62, 28.05), (1.646, 29.95),
           (1.672, 29.95), (1.689, 28.25), (1.715, 30.1), (1.817, 30.1), (1.868, 30.25)]
b30_p4r = [(0, 0), (0.031, -0.3), (0.091, 2), (0.159, 1.65), (0.21, 1.05), (0.258, 1.05), (0.275, 2.9),
           (0.296, 6.65), (0.321, 10.35), (0.356, 14.7), (0.39, 18.45), (0.424, 21.55), (0.458, 23.55),
           (0.501, 25.15), (0.552, 26.2), (0.603, 26.65), (0.655, 27.15), (0.706, 27.9), (0.757, 28.25),
           (0.809, 28.9), (0.843, 28.1), (0.894, 27.25), (0.997, 27.15), (1.099, 27.25), (1.185, 27.65),
           (1.21, 27.45), (1.227, 24.95), (1.25, 27.45), (1.321, 27.65), (1.356, 28.4), (1.403, 29.95),
           (1.42, 29.3), (1.441, 29.75), (1.51, 29.5), (1.595, 29.95), (1.617, 28.4), (1.637, 29.95),
           (1.672, 29.95), (1.689, 28.7), (1.715, 29.95), (1.817, 29.75), (1.868, 30.1)]

conc_text = ["15.0%", "22.5%", "30.0%"]

# ---------------- style ----------------
sns.set_style("ticks")
plt.rcParams["font.family"] = ["Liberation Serif", "Noto Sans CJK SC", "DejaVu Sans"]
plt.rcParams["mathtext.fontset"] = "custom"
plt.rcParams["mathtext.it"] = "Liberation Serif:italic"
plt.rcParams["mathtext.rm"] = "Liberation Serif"

fig = plt.figure(figsize=(29.89, 17.87), dpi=100)

# axes boxes in figure fractions [left, bottom, width, height]
boxes = [
    [0.0422, 0.5948, 0.2425, 0.3487],
    [0.3991, 0.5932, 0.2536, 0.3413],
    [0.7618, 0.5909, 0.2242, 0.3296],
    [0.0435, 0.0705, 0.2486, 0.3352],
    [0.4042, 0.0677, 0.2395, 0.3223],
    [0.7534, 0.0677, 0.2366, 0.3184],
]
panels = [
    ([a15_p1l, a15_p1r, a15_p2l, a15_p2r], labels4),
    ([a22_p1l, a22_p1r, a22_p2l, a22_p2r, a22_p3l, a22_p3r], labels6),
    ([a30_p1l, a30_p1r, a30_p2l, a30_p2r, a30_p3l, a30_p3r, a30_p4l, a30_p4r], labels8),
    ([b15_p1l, b15_p1r, b15_p2l, b15_p2r], labels4),
    ([b22_p1l, b22_p1r, b22_p2l, b22_p2r, b22_p3l, b22_p3r], labels6),
    ([b30_p1l, b30_p1r, b30_p2l, b30_p2r, b30_p3l, b30_p3r, b30_p4l, b30_p4r], labels8),
]
# legend: (handle x, bottom y in axes fraction, fontsize, labelspacing)
leg_pos = [
    (0.579, 0.048, 15.7, 0.33),
    (0.551, 0.068, 17.8, 0.31),
    (0.666, 0.008, 12.0, 0.34),
    (0.590, 0.081, 16.2, 0.25),
    (0.566, 0.025, 17.3, 0.28),
    (0.683, 0.018, 12.4, 0.27),
]
# axis label pads (x, y) per panel
label_pads = [(5, 20), (14, 5), (1, 22), (16, 20), (11, 22), (11, 25)]

for i, (box, (series, labs), lp) in enumerate(zip(boxes, panels, leg_pos)):
    ax = fig.add_axes(box)
    for pts, lab, col in zip(series, labs, colors):
        t = [p[0] for p in pts]
        T = [p[1] for p in pts]
        sns.lineplot(x=t, y=T, ax=ax, color=col, lw=3.5, label=lab,
                     sort=False, estimator=None)

    ax.set_xlim(-0.25, 2.0)
    ax.xaxis.set_major_locator(MultipleLocator(0.5))
    ax.xaxis.set_minor_locator(MultipleLocator(0.25))
    if i < 3:
        ax.set_ylim(-2.5, 30)
        ax.yaxis.set_major_locator(MultipleLocator(5))
        ax.yaxis.set_minor_locator(MultipleLocator(2.5))
    else:
        ax.set_ylim(-5, 70)
        ax.yaxis.set_major_locator(MultipleLocator(10))
        ax.yaxis.set_minor_locator(MultipleLocator(5))
    ax.xaxis.set_major_formatter(matplotlib.ticker.FormatStrFormatter("%.1f"))

    for s in ax.spines.values():
        s.set_linewidth(2.6)
        s.set_color("black")
    ax.tick_params(which="major", direction="in", length=6.7, width=2,
                   labelsize=17.5, top=False, right=False)
    ax.tick_params(axis="x", which="major", pad=13)
    ax.tick_params(axis="y", which="major", pad=8)
    ax.tick_params(which="minor", direction="in", length=3.6, width=2,
                   top=False, right=False)
    for lbl in ax.get_xticklabels() + ax.get_yticklabels():
        lbl.set_fontweight("bold")

    xpad, ypad = label_pads[i]
    ax.set_xlabel("t（h）", fontsize=26, fontweight="bold", labelpad=xpad)
    ax.set_ylabel("T（°C）", fontsize=26, fontweight="bold", labelpad=ypad)

    ax.text(0.043, 0.92, r"$\mathit{C}$=" + conc_text[i % 3], transform=ax.transAxes,
            fontsize=22, va="center", ha="left")

    hx, by, fs, ls = lp
    ax.legend(loc="lower left", bbox_to_anchor=(hx, by), frameon=False, fontsize=fs,
              borderpad=0, borderaxespad=0, handlelength=2.45, handletextpad=0.15,
              labelspacing=ls)
    ax.grid(False)

fig.text(0.005, 0.972, "(a)", fontsize=48, fontweight="bold", va="center", ha="left")
fig.text(0.006, 0.433, "(b)", fontsize=48, fontweight="bold", va="center", ha="left")

fig.savefig("out.png", dpi=100)
